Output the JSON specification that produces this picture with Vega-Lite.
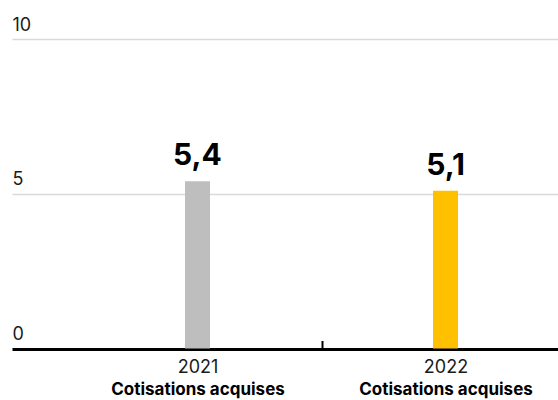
{
  "$schema": "https://vega.github.io/schema/vega-lite/v6.json",
  "width": 546,
  "height": 309.5,
  "autosize": {"type": "none"},
  "padding": {"left": 12, "top": 39, "right": 0, "bottom": 51.5},
  "config": {
    "view": {"stroke": null},
    "font": "Inter",
    "locale": {"number": {"decimal": ",", "thousands": " ", "grouping": [3], "currency": ["", " €"]}}
  },
  "data": {"values": [
    {"year": 2021, "value": 5.4, "label": "Cotisations acquises"},
    {"year": 2022, "value": 5.1, "label": "Cotisations acquises"}
  ]},
  "encoding": {
    "x": {"field": "year", "type": "quantitative",
      "scale": {"domain": [2020.252, 2022.4536], "nice": false, "zero": false, "padding": 0}},
    "y": {"field": "value", "type": "quantitative",
      "scale": {"domain": [0, 10], "nice": false, "zero": true},
      "axis": {
        "title": null, "domain": false, "ticks": false, "values": [0, 5, 10],
        "labelAlign": "left", "labelPadding": 0, "labelBaseline": "alphabetic", "labelOffset": -9,
        "labelFontSize": 18, "labelColor": "#1a1a1a", "labelFont": "Inter",
        "grid": true,
        "gridColor": {"condition": {"test": "datum.value === 0", "value": "#000000"}, "value": "#d9d9d9"},
        "gridWidth": {"condition": {"test": "datum.value === 0", "value": 3}, "value": 1.5}
      }}
  },
  "layer": [
    {
      "mark": {"type": "bar", "width": 25},
      "encoding": {
        "x": {"field": "year", "type": "quantitative",
          "axis": {
            "orient": "bottom", "title": null, "domain": false, "grid": false, "labelAngle": 0,
            "values": [2021, 2021.5, 2022], "format": "d",
            "labelExpr": "datum.value === 2021.5 ? '' : datum.label",
            "tickSize": -8, "tickWidth": 2, "tickColor": "#000000",
            "tickOpacity": {"condition": {"test": "datum.value === 2021.5", "value": 1}, "value": 0},
            "labelFontSize": 18, "labelPadding": 18, "labelColor": "#1a1a1a", "labelFont": "Inter",
            "labelFlush": false, "labelOverlap": false
          }},
        "color": {"field": "year", "type": "nominal",
          "scale": {"domain": [2021, 2022], "range": ["#BEBEBE", "#FFC000"]}, "legend": null}
      }
    },
    {
      "mark": {"type": "text", "fontSize": 30, "fontWeight": "bold", "baseline": "alphabetic", "dy": -16, "color": "#000000", "font": "Inter"},
      "encoding": {
        "x": {"field": "year", "type": "quantitative",
          "axis": {
            "orient": "bottom", "title": null, "domain": false, "ticks": false, "grid": false, "labelAngle": 0,
            "values": [2021, 2022],
            "labelExpr": "'Cotisations acquises'",
            "labelFontSize": 17, "labelFontWeight": "bold", "labelPadding": 33, "labelColor": "#000000", "labelFont": "Inter",
            "labelFlush": false, "labelOverlap": false
          }},
        "text": {"field": "value", "type": "quantitative", "format": ".1f"}
      }
    }
  ],
  "resolve": {"axis": {"x": "independent"}}
}
